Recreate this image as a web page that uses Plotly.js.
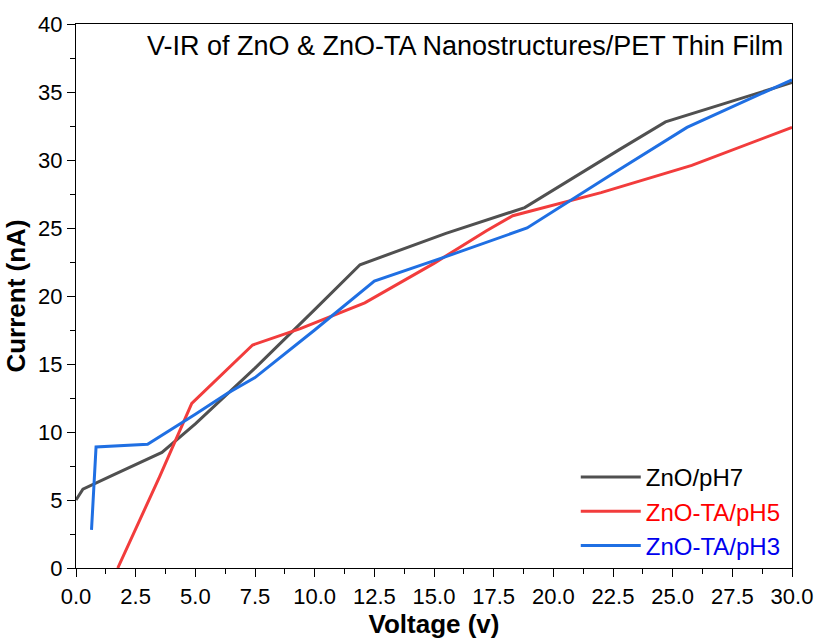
<!DOCTYPE html>
<html><head><meta charset="utf-8">
<script src="https://cdn.plot.ly/plotly-3.0.1.min.js"></script>
<style>body{margin:0;background:#fff}#c{width:814px;height:639px}</style>
</head><body><div id="c"></div>
<script>
const ph7X = [0.0, 0.29, 1.5, 3.6, 5.0, 7.5, 10.0, 11.9, 15.5, 18.8, 22.8, 24.7, 30.0];
const ph7Y = [5.0, 5.8, 6.8, 8.5, 10.6, 14.7, 19.0, 22.3, 24.6, 26.5, 30.8, 32.8, 35.7];
const ph5X = [1.75, 3.5, 4.85, 7.4, 9.4, 12.1, 15.0, 17.2, 18.3, 22.0, 25.8, 30.0];
const ph5Y = [0.0, 6.7, 12.1, 16.4, 17.6, 19.5, 22.4, 24.8, 25.9, 27.6, 29.6, 32.4];
const ph3X = [0.65, 0.84, 3.0, 5.0, 6.3, 7.5, 10.0, 12.5, 15.5, 18.9, 22.5, 25.6, 30.0];
const ph3Y = [2.8, 8.9, 9.1, 11.3, 12.8, 14.0, 17.5, 21.1, 22.9, 25.0, 29.0, 32.4, 35.9];
const names = ['ZnO/pH7', 'ZnO-TA/pH5', 'ZnO-TA/pH3'];
const colors = ['#505050', '#f23c3c', '#1f6fe3'];
const textColors = ['#000000', '#ff0000', '#0000ee'];
const xs = [ph7X, ph5X, ph3X], ys = [ph7Y, ph5Y, ph3Y];
const FONT = 'Arial, Liberation Sans, sans-serif';
const data = xs.map((x, i) => ({
  x: x, y: ys[i], type: 'scatter', mode: 'lines',
  name: '<span style="color:' + textColors[i] + '">' + names[i] + '</span>',
  line: {color: colors[i], width: 3}
}));
const axisCommon = {
  showline: true, linecolor: '#000', linewidth: 1.3, mirror: true,
  ticks: 'outside', ticklen: 8, tickwidth: 1.3, tickcolor: '#000',
  showgrid: false, zeroline: false,
  tickfont: {family: FONT, size: 22, color: '#000'}
};
const layout = {
  width: 814, height: 639,
  margin: {l: 76, r: 22, t: 24, b: 71},
  paper_bgcolor: '#fff', plot_bgcolor: '#fff',
  showlegend: true,
  legend: {x: 0.698, y: 0.0, xanchor: 'left', yanchor: 'bottom', bgcolor: 'rgba(0,0,0,0)',
    itemwidth: 60, font: {family: FONT, size: 24}, tracegroupgap: 0},
  xaxis: Object.assign({}, axisCommon, {
    range: [0, 30], dtick: 2.5, tick0: 0, tickformat: '.1f',
    minor: {ticks: 'outside', ticklen: 5, dtick: 1.25, tickcolor: '#000', tickwidth: 1.2},
    title: {text: '<b>Voltage (v)</b>', font: {family: FONT, size: 26, color: '#000'}, standoff: 4}
  }),
  yaxis: Object.assign({}, axisCommon, {
    range: [0, 40], dtick: 5, tick0: 0,
    minor: {ticks: 'outside', ticklen: 5, dtick: 2.5, tickcolor: '#000', tickwidth: 1.2},
    title: {text: '<b>Current (nA)</b>', font: {family: FONT, size: 26, color: '#000'}, standoff: 4}
  }),
  annotations: [{
    text: 'V-IR of ZnO & ZnO-TA Nanostructures/PET Thin Film',
    xref: 'paper', yref: 'paper', x: 0.99, y: 0.99, xanchor: 'right', yanchor: 'top',
    showarrow: false, font: {family: FONT, size: 27, color: '#000'}
  }]
};
Plotly.newPlot('c', data, layout, {displayModeBar: false});
</script></body></html>
